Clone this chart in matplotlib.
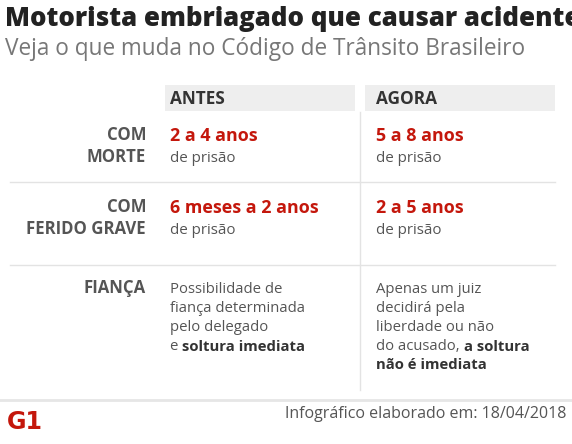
import matplotlib
matplotlib.use("Agg")
import matplotlib.pyplot as plt
from matplotlib.patches import Rectangle

plt.rcParams["font.family"] = ["Open Sans", "DejaVu Sans"]

title = "Motorista embriagado que causar acidente"
subtitle = "Veja o que muda no Código de Trânsito Brasileiro"
columns = ["ANTES", "AGORA"]
row_labels = [["COM", "MORTE"], ["COM", "FERIDO GRAVE"], ["FIANÇA"]]
penalties = [["2 a 4 anos", "5 a 8 anos"], ["6 meses a 2 anos", "2 a 5 anos"]]
bail_antes = ["Possibilidade de", "fiança determinada", "pelo delegado"]
bail_agora = ["Apenas um juiz", "decidirá pela", "liberdade ou não"]
footer = "Infográfico elaborado em: 18/04/2018"

RED = "#c4170c"
DARK = "#333333"
GRAY = "#555555"
PT = 0.72 * 1.08  # px -> pt at dpi 100, scaled to match reference

fig = plt.figure(figsize=(5.72, 4.44), dpi=100)
ax = fig.add_axes([0, 0, 1, 1])
ax.set_xlim(0, 572)
ax.set_ylim(444, 0)
ax.axis("off")

ax.text(5, 19, title, fontsize=24 * PT, fontweight="heavy", color="#222222", va="center")
ax.text(5, 49, subtitle, fontsize=21 * PT, color="#777777", va="center")

col_x = [170, 376]
rect_x = [165, 365]
for i, c in enumerate(columns):
    ax.add_patch(Rectangle((rect_x[i], 85), 190, 26, color="#eeeeee", lw=0))
    ax.text(col_x[i], 99, c, fontsize=16 * PT, fontweight="bold", color=DARK, va="center")

ax.plot([360, 360], [112, 390], color="#e3e3e3", lw=1)
for y in [182, 265]:
    ax.plot([10, 555], [y, y], color="#e3e3e3", lw=1)
ax.plot([0, 572], [400, 400], color="#e6e6e6", lw=2)

row_y = [146, 218]
for r, labels in enumerate(row_labels[:2]):
    for k, lab in enumerate(labels):
        ax.text(146, row_y[r] - 11 + k * 22, lab, fontsize=15.5 * PT, fontweight="bold",
                color=GRAY, ha="right", va="center")
    for i in range(2):
        ax.text(col_x[i], row_y[r] - 10, penalties[r][i], fontsize=16.5 * PT,
                fontweight="bold", color=RED, va="center")
        ax.text(col_x[i], row_y[r] + 12, "de prisão", fontsize=14 * PT, color=GRAY, va="center")

ax.text(146, 288, row_labels[2][0], fontsize=15.5 * PT, fontweight="bold",
        color=GRAY, ha="right", va="center")

fs = 13.8 * PT
for k, line in enumerate(bail_antes):
    ax.text(col_x[0], 289 + k * 19, line, fontsize=fs, color=GRAY, va="center")
t = ax.text(col_x[0], 289 + 3 * 19, "e ", fontsize=fs, color=GRAY, va="center")
ax.annotate("soltura imediata", xy=(1, 0), xycoords=t, va="bottom", fontsize=fs,
            fontweight="bold", color=DARK)

for k, line in enumerate(bail_agora):
    ax.text(col_x[1], 289 + k * 19, line, fontsize=fs, color=GRAY, va="center")
t = ax.text(col_x[1], 289 + 3 * 19, "do acusado, ", fontsize=fs, color=GRAY, va="center")
ax.annotate("a soltura", xy=(1, 0), xycoords=t, va="bottom", fontsize=fs,
            fontweight="bold", color=DARK)
ax.text(col_x[1], 289 + 4 * 19, "não é imediata", fontsize=fs, fontweight="bold",
        color=DARK, va="center")

ax.text(7, 422, "G1", fontsize=22 * PT, fontweight="heavy", color=RED, va="center",
        family="DejaVu Sans")
ax.text(566, 414, footer, fontsize=14.8 * PT, color=GRAY, ha="right", va="center")

fig.savefig("out.png", dpi=100)
